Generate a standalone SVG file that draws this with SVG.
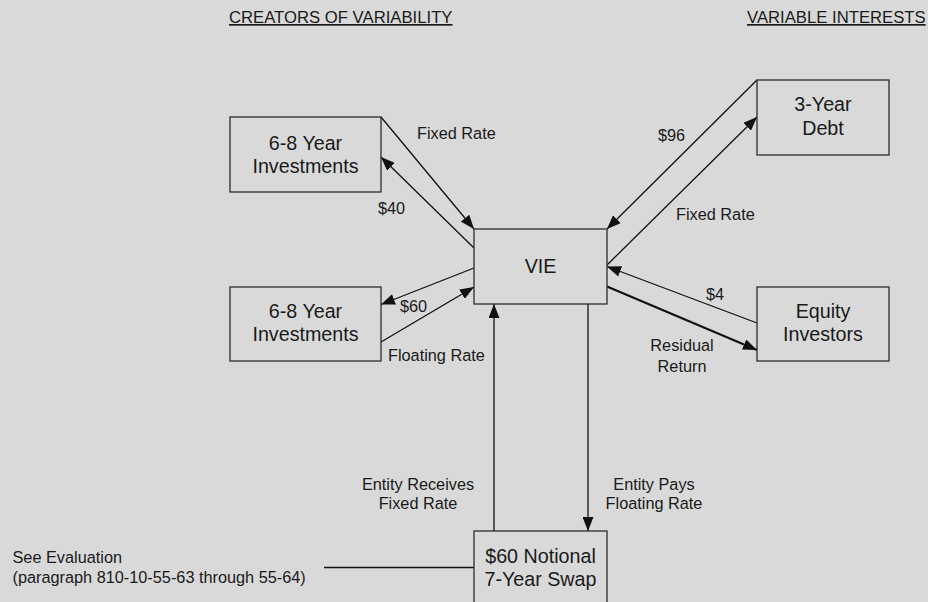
<svg xmlns="http://www.w3.org/2000/svg" width="928" height="602" viewBox="0 0 928 602">
<style>
.bg{fill:#d9d9d9}
.box rect{fill:#d9d9d9;stroke:#2b2b2b;stroke-width:1.3}
.bt{font-family:"Liberation Sans",Arial,sans-serif;font-size:19.7px;fill:#1a1a1a;text-anchor:middle}
.lb{font-family:"Liberation Sans",Arial,sans-serif;font-size:16.3px;fill:#1a1a1a}
.hd{font-family:"Liberation Sans",Arial,sans-serif;font-size:16.7px;fill:#1a1a1a;text-decoration:underline}
.c line{stroke:#111;stroke-width:1.3;fill:none}
.c .thick{stroke-width:2.2}
</style>
<defs>
<marker id="ah" markerUnits="userSpaceOnUse" markerWidth="14" markerHeight="11" viewBox="0 0 14 11" refX="14" refY="5.5" orient="auto">
<path d="M0,0 L14,5.5 L0,11 Z" fill="#111"/>
</marker>
</defs>
<rect class="bg" x="0" y="0" width="928" height="602"/>
<g id="headers">
<text class="hd" x="229" y="23">CREATORS OF VARIABILITY</text>
<text class="hd" x="747" y="23">VARIABLE INTERESTS</text>
</g>
<g class="c" id="connectors">
<line x1="381" y1="117" x2="474" y2="229" marker-end="url(#ah)"/>
<line x1="474" y1="248" x2="381" y2="157" marker-end="url(#ah)"/>
<line x1="474" y1="268" x2="381" y2="304.5" marker-end="url(#ah)"/>
<line x1="381" y1="342" x2="474" y2="287" marker-end="url(#ah)"/>
<line x1="757" y1="80" x2="607" y2="229" marker-end="url(#ah)"/>
<line x1="607" y1="265" x2="757" y2="117" marker-end="url(#ah)"/>
<line x1="757" y1="323" x2="607" y2="266.5" marker-end="url(#ah)"/>
<line class="thick" x1="607" y1="286.5" x2="757" y2="350" marker-end="url(#ah)"/>
<line x1="494" y1="531" x2="494" y2="304" marker-end="url(#ah)"/>
<line x1="588" y1="304" x2="588" y2="531" marker-end="url(#ah)"/>
<line x1="324" y1="567.5" x2="474" y2="567.5"/>
</g>
<g id="labels">
<text class="lb" x="417" y="139">Fixed Rate</text>
<text class="lb" x="378" y="214">$40</text>
<text class="lb" x="400" y="312">$60</text>
<text class="lb" x="388" y="361">Floating Rate</text>
<text class="lb" x="658" y="141">$96</text>
<text class="lb" x="676" y="220">Fixed Rate</text>
<text class="lb" x="706" y="300">$4</text>
<text class="lb" x="682" y="350.5" text-anchor="middle">Residual</text>
<text class="lb" x="682" y="371.5" text-anchor="middle">Return</text>
<text class="lb" x="418" y="490" text-anchor="middle">Entity Receives</text>
<text class="lb" x="418" y="509" text-anchor="middle">Fixed Rate</text>
<text class="lb" x="654" y="490" text-anchor="middle">Entity Pays</text>
<text class="lb" x="654" y="509" text-anchor="middle">Floating Rate</text>
<text class="lb" x="12.5" y="563">See Evaluation</text>
<text class="lb" x="12.5" y="583">(paragraph 810-10-55-63 through 55-64)</text>
</g>
<g class="box" id="inv1">
<rect x="230" y="117" width="151" height="75"/>
<text class="bt" x="305.5" y="149.5">6-8 Year</text>
<text class="bt" x="305.5" y="172.5">Investments</text>
</g>
<g class="box" id="inv2">
<rect x="230" y="287" width="151" height="74"/>
<text class="bt" x="305.5" y="317.5">6-8 Year</text>
<text class="bt" x="305.5" y="340.5">Investments</text>
</g>
<g class="box" id="vie">
<rect x="474" y="229" width="133" height="75"/>
<text class="bt" x="540.5" y="272.5">VIE</text>
</g>
<g class="box" id="debt">
<rect x="757" y="80" width="132" height="75"/>
<text class="bt" x="823" y="110.5">3-Year</text>
<text class="bt" x="823" y="135">Debt</text>
</g>
<g class="box" id="equity">
<rect x="757" y="287" width="132" height="74"/>
<text class="bt" x="823" y="318">Equity</text>
<text class="bt" x="823" y="341">Investors</text>
</g>
<g class="box" id="swap">
<rect x="474" y="531" width="133" height="75"/>
<text class="bt" x="540.5" y="563">$60 Notional</text>
<text class="bt" x="540.5" y="585.5">7-Year Swap</text>
</g>
</svg>
